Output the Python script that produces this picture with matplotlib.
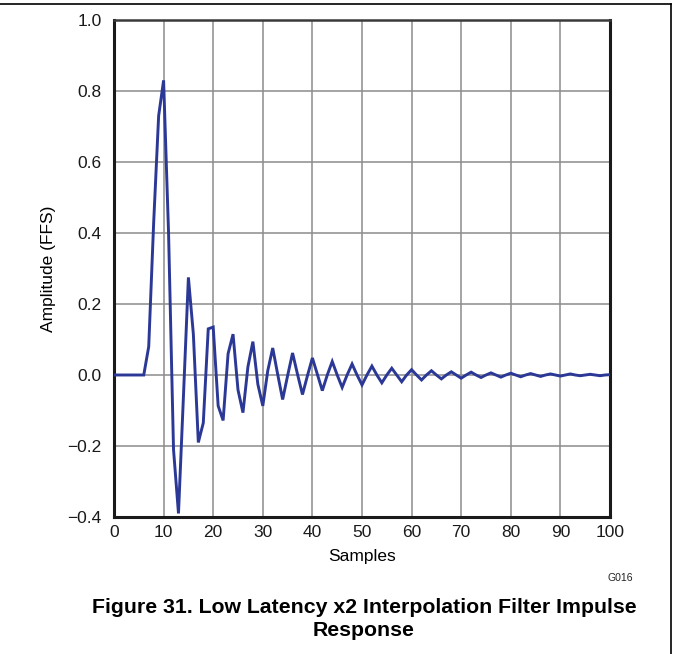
import numpy as np
import matplotlib
matplotlib.use("Agg")
from matplotlib import pyplot as plt

plt.rcParams["font.family"] = ["Liberation Sans", "DejaVu Sans"]

# impulse response (sample index 0..100)
samples = list(range(101))
amplitude = [
    0.0, 0.0, 0.0, 0.0, 0.0, 0.0, 0.0, 0.08, 0.43, 0.73,
    0.83, 0.40, -0.21, -0.39, -0.06, 0.275, 0.115, -0.19, -0.135, 0.13,
    0.135, -0.087, -0.128, 0.06, 0.115, -0.042, -0.106, 0.023, 0.094, -0.026,
    -0.087, 0.012, 0.076, 0.002, -0.069, -0.002, 0.062, 0.002, -0.055, -0.002,
    0.048, 0.002, -0.044, 0.0, 0.038, 0.0, -0.035, 0.0, 0.031, 0.0,
    -0.028, 0.0, 0.025, 0.0, -0.022, 0.0, 0.019, 0.0, -0.019, 0.0,
    0.015, 0.0, -0.014, 0.0, 0.012, 0.0, -0.011, 0.0, 0.009, 0.0,
    -0.009, 0.0, 0.008, 0.0, -0.007, 0.0, 0.006, 0.0, -0.006, 0.0,
    0.005, 0.0, -0.005, 0.0, 0.004, 0.0, -0.004, 0.0, 0.003, 0.0,
    -0.003, 0.0, 0.003, 0.0, -0.002, 0.0, 0.002, 0.0, -0.002, 0.0,
    0.001,
]

x_ticks = list(range(0, 101, 10))
y_ticks = [-0.4, -0.2, 0.0, 0.2, 0.4, 0.6, 0.8, 1.0]

fig = plt.figure(figsize=(6.73, 6.54), dpi=100)
ax = fig.add_axes([114 / 673, 137 / 654, 496 / 673, 497 / 654])

ax.plot(samples, amplitude, color="#2b3896", linewidth=2.1, solid_joinstyle="miter", zorder=3)

ax.set_xlim(0, 100)
ax.set_ylim(-0.4, 1.0)
ax.set_xticks(x_ticks)
ax.set_yticks(y_ticks)
ax.set_yticklabels(["%.1f" % v if v >= 0 else "\u2212%.1f" % abs(v) for v in y_ticks])
ax.tick_params(length=0, labelsize=12.5, colors="#1a1a1a")
ax.tick_params(axis="y", pad=9)
ax.tick_params(axis="x", pad=6)
ax.grid(True, color="#8c8c8c", linewidth=1.1)
ax.set_axisbelow(True)

for side in ("left", "bottom", "right"):
    ax.spines[side].set_linewidth(2.2)
    ax.spines[side].set_color("#1a1a1a")
ax.spines["top"].set_linewidth(1.8)
ax.spines["top"].set_color("#3a3a3a")

ax.set_xlabel("Samples", fontsize=12.5, labelpad=6)
ax.set_ylabel("Amplitude (FFS)", fontsize=12.5, labelpad=8)

# page frame lines
fig.add_artist(plt.Line2D([0, 671 / 673], [1 - 4 / 654, 1 - 4 / 654], color="black", linewidth=1.2))
fig.add_artist(plt.Line2D([671 / 673, 671 / 673], [0, 1 - 4 / 654], color="black", linewidth=1.2))

fig.text(633 / 673, 1 - 578 / 654, "G016", fontsize=7.6, ha="right", va="center", color="#222222")
fig.text(364 / 673, 1 - 619 / 654,
         "Figure 31. Low Latency x2 Interpolation Filter Impulse\nResponse",
         fontsize=15.3, fontweight="bold", ha="center", va="center", linespacing=1.28)

fig.savefig("out.png", dpi=100)
